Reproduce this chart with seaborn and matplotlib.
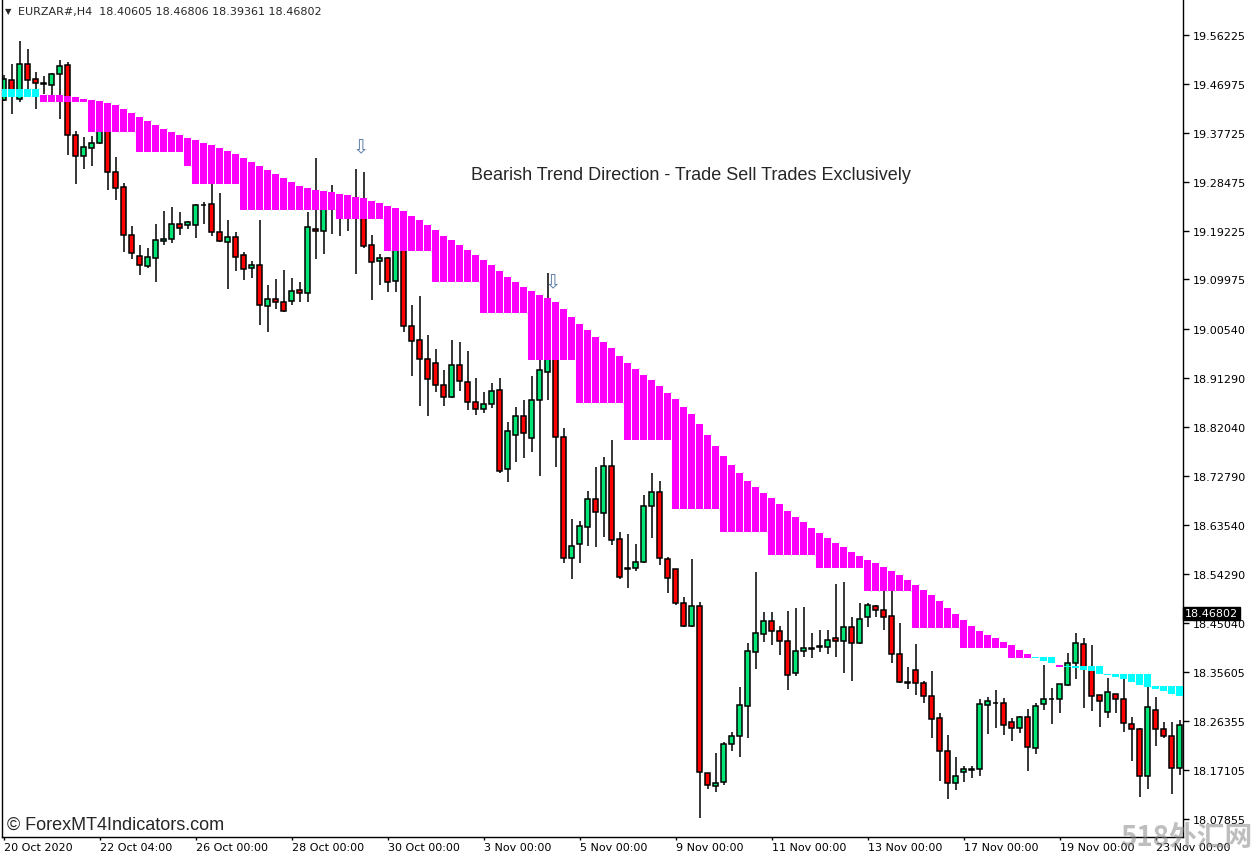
import numpy as np
import matplotlib
matplotlib.use("Agg")
import matplotlib.pyplot as plt
import seaborn as sns

# EURZAR H4 candles, oldest bar first
opens = [19.439, 19.477, 19.441, 19.507, 19.479, 19.471, 19.468, 19.489, 19.506, 19.373,
         19.333, 19.349, 19.358, 19.383, 19.303, 19.275, 19.184, 19.144, 19.125, 19.140,
         19.172, 19.176, 19.205, 19.203, 19.202, 19.240, 19.242, 19.189, 19.171, 19.180,
         19.146, 19.121, 19.127, 19.049, 19.063, 19.057, 19.059, 19.080, 19.074, 19.195,
         19.191, 19.239, 19.242, 19.225, 19.242, 19.242, 19.165, 19.135, 19.140, 19.096,
         19.167, 19.012, 18.985, 18.949, 18.942, 18.900, 18.877, 18.938, 18.905, 18.868,
         18.855, 18.864, 18.890, 18.741, 18.805, 18.841, 18.800, 18.872, 18.925, 18.968,
         18.801, 18.573, 18.599, 18.632, 18.685, 18.657, 18.746, 18.609, 18.553, 18.554,
         18.565, 18.670, 18.697, 18.571, 18.552, 18.488, 18.444, 18.481, 18.166, 18.141,
         18.148, 18.221, 18.236, 18.293, 18.395, 18.429, 18.453, 18.435, 18.415, 18.354,
         18.396, 18.402, 18.406, 18.405, 18.422, 18.415, 18.441, 18.412, 18.461, 18.481,
         18.475, 18.462, 18.390, 18.337, 18.360, 18.335, 18.311, 18.269, 18.207, 18.146,
         18.167, 18.173, 18.173, 18.295, 18.299, 18.298, 18.262, 18.250, 18.271, 18.212,
         18.296, 18.306, 18.305, 18.333, 18.373, 18.409, 18.364, 18.313, 18.282, 18.316,
         18.305, 18.258, 18.249, 18.159, 18.284, 18.248, 18.235, 18.176]
highs = [19.487, 19.507, 19.551, 19.536, 19.492, 19.485, 19.490, 19.515, 19.511, 19.381,
         19.369, 19.371, 19.390, 19.390, 19.331, 19.282, 19.201, 19.165, 19.159, 19.205,
         19.229, 19.237, 19.227, 19.210, 19.242, 19.246, 19.280, 19.263, 19.212, 19.189,
         19.152, 19.135, 19.212, 19.089, 19.101, 19.118, 19.102, 19.095, 19.227, 19.330,
         19.252, 19.278, 19.252, 19.242, 19.309, 19.303, 19.184, 19.148, 19.142, 19.195,
         19.176, 19.051, 19.068, 18.995, 18.968, 18.928, 18.985, 18.981, 18.964, 18.913,
         18.887, 18.904, 18.913, 18.830, 18.858, 18.872, 18.917, 18.947, 19.112, 18.977,
         18.819, 18.646, 18.642, 18.699, 18.744, 18.763, 18.796, 18.621, 18.618, 18.599,
         18.692, 18.733, 18.719, 18.574, 18.552, 18.498, 18.570, 18.490, 18.166, 18.203,
         18.225, 18.243, 18.328, 18.412, 18.546, 18.470, 18.470, 18.443, 18.472, 18.478,
         18.480, 18.430, 18.436, 18.436, 18.523, 18.528, 18.460, 18.487, 18.487, 18.483,
         18.514, 18.510, 18.449, 18.366, 18.409, 18.339, 18.358, 18.279, 18.237, 18.195,
         18.178, 18.178, 18.306, 18.310, 18.323, 18.307, 18.270, 18.273, 18.286, 18.299,
         18.370, 18.326, 18.334, 18.393, 18.431, 18.421, 18.408, 18.313, 18.345, 18.316,
         18.344, 18.272, 18.250, 18.328, 18.309, 18.263, 18.263, 18.266]
lows = [19.437, 19.413, 19.436, 19.460, 19.422, 19.451, 19.447, 19.403, 19.335, 19.280,
        19.309, 19.314, 19.356, 19.269, 19.250, 19.152, 19.138, 19.108, 19.121, 19.095,
        19.165, 19.169, 19.184, 19.195, 19.178, 19.205, 19.182, 19.171, 19.082, 19.116,
        19.099, 19.102, 19.014, 19.000, 19.044, 19.038, 19.051, 19.057, 19.057, 19.138,
        19.148, 19.186, 19.182, 19.191, 19.110, 19.159, 19.061, 19.089, 19.076, 19.076,
        19.000, 18.917, 18.860, 18.841, 18.887, 18.860, 18.875, 18.889, 18.853, 18.843,
        18.847, 18.856, 18.733, 18.716, 18.754, 18.762, 18.773, 18.728, 18.872, 18.745,
        18.563, 18.533, 18.563, 18.595, 18.593, 18.613, 18.597, 18.533, 18.516, 18.548,
        18.563, 18.610, 18.559, 18.506, 18.484, 18.442, 18.442, 18.080, 18.135, 18.129,
        18.143, 18.208, 18.196, 18.232, 18.362, 18.414, 18.407, 18.388, 18.323, 18.350,
        18.386, 18.384, 18.395, 18.390, 18.386, 18.355, 18.339, 18.409, 18.441, 18.461,
        18.437, 18.374, 18.335, 18.325, 18.314, 18.299, 18.232, 18.151, 18.117, 18.134,
        18.149, 18.157, 18.160, 18.240, 18.251, 18.238, 18.227, 18.242, 18.170, 18.202,
        18.284, 18.259, 18.280, 18.331, 18.344, 18.289, 18.283, 18.253, 18.270, 18.280,
        18.244, 18.189, 18.121, 18.135, 18.217, 18.232, 18.125, 18.162]
closes = [19.479, 19.454, 19.507, 19.477, 19.471, 19.470, 19.489, 19.504, 19.373, 19.333,
          19.350, 19.358, 19.383, 19.303, 19.273, 19.184, 19.150, 19.127, 19.142, 19.174,
          19.176, 19.205, 19.197, 19.208, 19.241, 19.241, 19.189, 19.172, 19.180, 19.142,
          19.119, 19.127, 19.051, 19.063, 19.057, 19.040, 19.078, 19.074, 19.199, 19.191,
          19.237, 19.256, 19.224, 19.233, 19.224, 19.163, 19.133, 19.140, 19.095, 19.176,
          19.012, 18.983, 18.949, 18.911, 18.900, 18.877, 18.938, 18.907, 18.868, 18.855,
          18.864, 18.889, 18.737, 18.813, 18.841, 18.809, 18.872, 18.928, 18.968, 18.801,
          18.573, 18.596, 18.633, 18.685, 18.659, 18.746, 18.607, 18.536, 18.551, 18.565,
          18.670, 18.697, 18.573, 18.535, 18.487, 18.444, 18.482, 18.168, 18.142, 18.147,
          18.221, 18.236, 18.294, 18.396, 18.430, 18.453, 18.435, 18.415, 18.352, 18.396,
          18.402, 18.400, 18.405, 18.417, 18.415, 18.441, 18.412, 18.457, 18.483, 18.475,
          18.461, 18.390, 18.337, 18.336, 18.336, 18.311, 18.267, 18.207, 18.146, 18.159,
          18.173, 18.172, 18.296, 18.301, 18.298, 18.256, 18.250, 18.271, 18.214, 18.293,
          18.305, 18.305, 18.334, 18.373, 18.411, 18.364, 18.311, 18.301, 18.318, 18.305,
          18.260, 18.248, 18.159, 18.290, 18.248, 18.235, 18.175, 18.256]

# trend band drawn by the indicator: upper / lower edge for every bar
band_hi = [19.460, 19.460, 19.460, 19.460, 19.460, 19.449, 19.449, 19.449, 19.447, 19.445,
           19.441, 19.439, 19.437, 19.434, 19.430, 19.422, 19.415, 19.407, 19.400, 19.392,
           19.385, 19.379, 19.373, 19.368, 19.364, 19.358, 19.354, 19.349, 19.343, 19.337,
           19.330, 19.322, 19.314, 19.307, 19.299, 19.292, 19.284, 19.277, 19.273, 19.269,
           19.267, 19.265, 19.261, 19.259, 19.256, 19.254, 19.249, 19.244, 19.239, 19.235,
           19.229, 19.220, 19.212, 19.203, 19.193, 19.182, 19.174, 19.165, 19.155, 19.146,
           19.136, 19.127, 19.116, 19.104, 19.095, 19.085, 19.078, 19.070, 19.065, 19.057,
           19.044, 19.029, 19.016, 19.004, 18.991, 18.981, 18.970, 18.955, 18.942, 18.930,
           18.919, 18.909, 18.898, 18.885, 18.873, 18.858, 18.845, 18.826, 18.805, 18.784,
           18.766, 18.749, 18.734, 18.719, 18.707, 18.696, 18.686, 18.675, 18.661, 18.650,
           18.640, 18.629, 18.620, 18.610, 18.601, 18.593, 18.584, 18.576, 18.569, 18.563,
           18.556, 18.548, 18.540, 18.531, 18.521, 18.512, 18.503, 18.491, 18.478, 18.467,
           18.455, 18.444, 18.435, 18.427, 18.422, 18.414, 18.407, 18.398, 18.391, 18.385,
           18.385, 18.385, 18.370, 18.368, 18.368, 18.368, 18.368, 18.368, 18.353, 18.353,
           18.353, 18.353, 18.353, 18.353, 18.330, 18.330, 18.330, 18.330]
band_lo = [19.444, 19.444, 19.444, 19.444, 19.444, 19.436, 19.436, 19.436, 19.436, 19.436,
           19.436, 19.379, 19.379, 19.379, 19.379, 19.379, 19.379, 19.341, 19.341, 19.341,
           19.341, 19.341, 19.341, 19.314, 19.280, 19.280, 19.280, 19.280, 19.280, 19.280,
           19.232, 19.232, 19.232, 19.232, 19.232, 19.232, 19.232, 19.232, 19.232, 19.232,
           19.232, 19.232, 19.214, 19.214, 19.214, 19.214, 19.214, 19.214, 19.154, 19.154,
           19.154, 19.154, 19.154, 19.154, 19.094, 19.094, 19.094, 19.094, 19.094, 19.094,
           19.037, 19.037, 19.037, 19.037, 19.037, 19.037, 18.948, 18.948, 18.948, 18.948,
           18.948, 18.948, 18.866, 18.866, 18.866, 18.866, 18.866, 18.866, 18.795, 18.795,
           18.795, 18.795, 18.795, 18.795, 18.665, 18.665, 18.665, 18.665, 18.665, 18.665,
           18.622, 18.622, 18.622, 18.622, 18.622, 18.622, 18.579, 18.579, 18.579, 18.579,
           18.579, 18.579, 18.554, 18.554, 18.554, 18.554, 18.554, 18.554, 18.510, 18.510,
           18.510, 18.510, 18.510, 18.510, 18.440, 18.440, 18.440, 18.440, 18.440, 18.440,
           18.402, 18.402, 18.402, 18.402, 18.402, 18.402, 18.383, 18.383, 18.383, 18.383,
           18.377, 18.374, 18.366, 18.366, 18.364, 18.360, 18.359, 18.353, 18.351, 18.347,
           18.344, 18.338, 18.332, 18.329, 18.325, 18.321, 18.315, 18.311]
# u = bullish (cyan), d = bearish (magenta)
band_state = "u" * 5 + "d" * 124 + "u" * 3 + "d" + "u" * 15

# sell arrows above two bars
arrow_bars = [45, 69]
arrow_prices = [19.350, 19.095]

date_ticks = [0, 12, 24, 36, 48, 60, 72, 84, 96, 108, 120, 132, 144]
date_labels = ["20 Oct 2020", "22 Oct 04:00", "26 Oct 00:00", "28 Oct 00:00", "30 Oct 00:00",
               "3 Nov 00:00", "5 Nov 00:00", "9 Nov 00:00", "11 Nov 00:00", "13 Nov 00:00",
               "17 Nov 00:00", "19 Nov 00:00", "23 Nov 00:00"]
price_ticks = [19.56225, 19.46975, 19.37725, 19.28475, 19.19225, 19.09975, 19.00540, 18.91290,
               18.82040, 18.72790, 18.63540, 18.54290, 18.45040, 18.35605, 18.26355, 18.17105,
               18.07855]
last_price = 18.46802

sns.set_theme(style="white")
plt.rcParams["font.family"] = ["DejaVu Sans"]

fig = plt.figure(figsize=(12.53, 8.62), dpi=100)
ax = fig.add_axes([2 / 1253, 24 / 862, 1181 / 1253, 838 / 862])

x = np.arange(len(opens))
o = np.array(opens)
h = np.array(highs)
l = np.array(lows)
c = np.array(closes)
bull = c >= o

# wicks, then bodies
ax.vlines(x, l, h, color="black", linewidth=1.1, zorder=1)
body_col = np.where(bull, "#00E676", "#FF0000")
ax.bar(x, np.maximum(np.abs(c - o), 0.0003), bottom=np.minimum(o, c), width=0.6,
       color=body_col, edgecolor="black", linewidth=1.1, zorder=2)

# indicator band sits on top of the candles
hi = np.array(band_hi)
lo = np.array(band_lo)
band_col = ["#00FFFF" if s == "u" else "#FF00FF" for s in band_state]
ax.bar(x, hi - lo, bottom=lo, width=0.9, color=band_col, linewidth=0, zorder=3)

for bx, by in zip(arrow_bars, arrow_prices):
    ax.text(bx - 0.3, by, "\u21e9", ha="center", va="center", fontsize=14,
            color="#5B7BA6", zorder=4)

ax.set_xlim(-0.1875, 147.4375)
ax.set_ylim(18.0445, 19.6304)

ax.yaxis.tick_right()
ax.set_yticks(price_ticks)
ax.set_yticklabels([f"{p:.5f}" for p in price_ticks])
ax.tick_params(axis="y", length=4, width=1, labelsize=8, pad=3, colors="black",
               left=False, right=True)

ax.set_xticks(date_ticks)
ax.set_xticklabels(date_labels)
for lbl in ax.get_xticklabels():
    lbl.set_ha("left")
ax.tick_params(axis="x", length=2, width=1, labelsize=8, pad=1.5, colors="black",
               bottom=True)

for side in ["left", "right", "bottom"]:
    ax.spines[side].set_color("black")
    ax.spines[side].set_linewidth(1)
ax.spines["top"].set_visible(False)
ax.grid(False)

# current price tag on the axis
ax.text(1.0015, last_price, f"{last_price:.5f}", transform=ax.get_yaxis_transform(),
        ha="left", va="center", fontsize=8, color="white", zorder=6, clip_on=False,
        bbox=dict(facecolor="black", edgecolor="black", pad=1.2))

# header, note, copyright, watermark
fig.text(5 / 1253, 1 - 12 / 862, "\u25bc", fontsize=6, va="center", ha="left")
fig.text(18 / 1253, 1 - 12 / 862, "EURZAR#,H4  18.40605 18.46806 18.39361 18.46802",
         fontsize=8, va="center", ha="left")
fig.text(691 / 1253, 1 - 175 / 862, "Bearish Trend Direction - Trade Sell Trades Exclusively",
         family="Liberation Sans", fontsize=13, ha="center", va="center")
fig.text(7 / 1253, 1 - 825 / 862, "\u00a9 ForexMT4Indicators.com", family="Liberation Sans",
         fontsize=13, ha="left", va="center")
fig.text(1120 / 1253, 1 - 838 / 862, "518外汇网", family=["Noto Sans CJK SC", "DejaVu Sans"],
         fontsize=20, fontweight="bold", color="#8a8a8a", alpha=0.55, ha="left", va="center")

fig.savefig("out.png", dpi=100)
